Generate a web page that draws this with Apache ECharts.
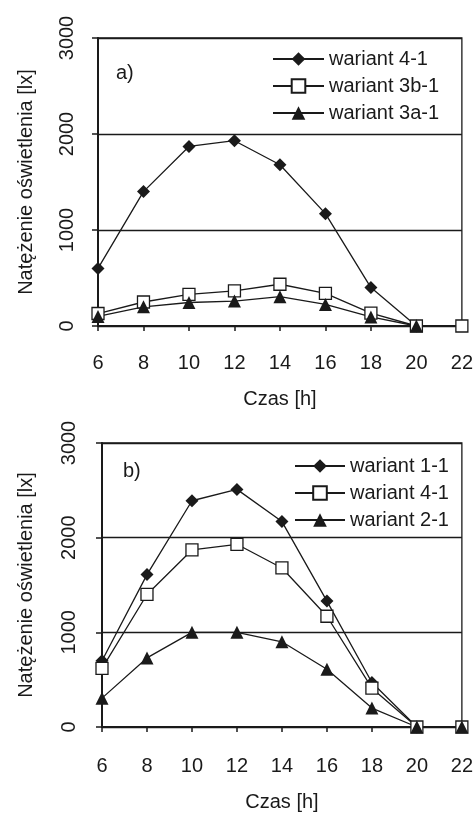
<!DOCTYPE html>
<html>
<head>
<meta charset="utf-8">
<script src="https://cdn.jsdelivr.net/npm/echarts@6/dist/echarts.min.js"></script>
<style>
  html, body { margin: 0; padding: 0; background: #fff; }
  #chart-container { width: 476px; height: 813px; }
</style>
</head>
<body>
<div id="chart-container"></div>
<script>
let dom = document.getElementById("chart-container");
let myChart = echarts.init(dom, null, { renderer: "canvas" });

const hours = [6, 8, 10, 12, 14, 16, 18, 20, 22];

// panel a)
const a_w41 = [600, 1400, 1870, 1930, 1680, 1170, 400, 0, null];
const a_w3b1 = [130, 250, 330, 365, 435, 340, 135, 0, 0];
const a_w3a1 = [100, 200, 245, 260, 305, 225, 95, 0, null];

// panel b)
const b_w11 = [700, 1610, 2390, 2510, 2170, 1330, 470, 0, null];
const b_w41 = [620, 1400, 1870, 1930, 1680, 1170, 410, 0, 0];
const b_w21 = [305, 730, 1000, 1000, 900, 610, 200, 0, 0];

const yTitle = "Natężenie oświetlenia [lx]";
const xTitle = "Czas [h]";
const font = "Liberation Sans";
const ink = "#1a1a1a";
const fs = 20;

const pair = (arr) => hours.map((h, i) => [h, arr[i]]);

const markers = {
  diamond: { symbol: "diamond", symbolSize: 13, itemStyle: { color: ink, borderColor: ink, borderWidth: 0 } },
  square: { symbol: "rect", symbolSize: 12, itemStyle: { color: "#fff", borderColor: ink, borderWidth: 1.3 } },
  triangle: { symbol: "triangle", symbolSize: 13, itemStyle: { color: ink, borderColor: ink, borderWidth: 0 } },
};

function makeSeries(name, data, kind, idx) {
  return Object.assign({
    name: name,
    type: "line",
    xAxisIndex: idx,
    yAxisIndex: idx,
    data: pair(data),
    connectNulls: false,
    showAllSymbol: true,
    lineStyle: { color: ink, width: 1.3 },
    emphasis: { disabled: true },
  }, markers[kind]);
}

function xAxis(idx, gap, margin) {
  return {
    gridIndex: idx,
    type: "value",
    min: 6,
    max: 22,
    interval: 2,
    name: xTitle,
    nameLocation: "middle",
    nameGap: gap,
    nameTextStyle: { fontFamily: font, fontSize: fs, color: ink },
    axisLine: { onZero: false, lineStyle: { color: ink, width: 2 } },
    axisTick: { length: 5, lineStyle: { color: ink, width: 1.5 } },
    axisLabel: { fontFamily: font, fontSize: fs, color: ink, margin: margin },
    splitLine: { show: false },
  };
}

function yAxis(idx, gap, margin) {
  return {
    gridIndex: idx,
    type: "value",
    min: 0,
    max: 3000,
    interval: 1000,
    name: yTitle,
    nameLocation: "middle",
    nameGap: gap,
    nameTextStyle: { fontFamily: font, fontSize: fs, color: ink },
    axisLine: { show: true, lineStyle: { color: ink, width: 2 } },
    axisTick: { show: true, length: 6, lineStyle: { color: ink, width: 1.5 } },
    axisLabel: {
      fontFamily: font, fontSize: fs, color: ink, rotate: 90, margin: margin,
      formatter: (v) => String(v),
    },
    splitLine: { show: true, lineStyle: { color: ink, width: 1.3 } },
  };
}

const legendText = { fontFamily: font, fontSize: fs, color: ink };

let option = {
  animation: false,
  backgroundColor: "#fff",
  grid: [
    { left: 98, top: 38, width: 365, height: 288, show: true, borderColor: ink, borderWidth: 1.3 },
    { left: 102, top: 443, width: 361, height: 286, show: true, borderColor: ink, borderWidth: 1.3 },
  ],
  xAxis: [xAxis(0, 63, 27), xAxis(1, 65, 29)],
  yAxis: [yAxis(0, 62, 21), yAxis(1, 66, 23)],
  legend: [
    {
      data: ["wariant 4-1", "wariant 3b-1", "wariant 3a-1"],
      orient: "vertical",
      left: 267,
      top: 44,
      itemWidth: 51,
      itemHeight: 17,
      itemGap: 7,
      textStyle: legendText,
      selectedMode: false,
    },
    {
      data: ["wariant 1-1", "wariant 4-1 ", "wariant 2-1"],
      orient: "vertical",
      left: 289,
      top: 451,
      itemWidth: 50,
      itemHeight: 17,
      itemGap: 7,
      textStyle: legendText,
      selectedMode: false,
    },
  ],
  graphic: [
    { type: "text", left: 116, top: 63, style: { text: "a)", font: fs + "px " + font, fill: ink } },
    { type: "text", left: 123, top: 461, style: { text: "b)", font: fs + "px " + font, fill: ink } },
  ],
  series: [
    makeSeries("wariant 4-1", a_w41, "diamond", 0),
    makeSeries("wariant 3b-1", a_w3b1, "square", 0),
    makeSeries("wariant 3a-1", a_w3a1, "triangle", 0),
    makeSeries("wariant 1-1", b_w11, "diamond", 1),
    makeSeries("wariant 4-1 ", b_w41, "square", 1),
    makeSeries("wariant 2-1", b_w21, "triangle", 1),
  ],
};

myChart.setOption(option);
window.addEventListener("resize", myChart.resize);
</script>
</body>
</html>
